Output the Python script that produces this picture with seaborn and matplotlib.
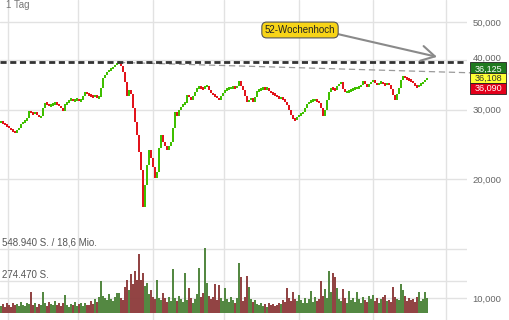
import numpy as np
import pandas as pd
import matplotlib
matplotlib.use("Agg")
import matplotlib.pyplot as plt
import matplotlib.transforms as mtransforms
from matplotlib.patches import Rectangle
from matplotlib.ticker import NullLocator
import seaborn as sns

# ---------------- data (prices in thousands) ----------------
closes = [
    27.91, 27.75, 27.43, 27.27, 26.95, 26.64, 26.48, 26.18, 26.64, 26.95,
    27.59, 27.91, 28.07, 28.57, 29.76, 29.41, 29.24, 29.58, 29.07, 28.73,
    28.90, 30.28, 31.18, 31.00, 30.64, 30.82, 31.00, 31.18, 31.00, 30.64,
    30.28, 29.76, 31.00, 31.18, 31.73, 31.92, 31.55, 31.73, 31.92, 31.55,
    31.73, 32.48, 33.25, 32.86, 32.67, 32.48, 32.29, 32.67, 32.10, 32.29,
    34.03, 36.07, 36.71, 37.36, 37.80, 38.02, 38.46, 38.91, 39.37, 39.60,
    38.69, 37.36, 35.24, 32.48, 33.64, 32.86, 30.28, 27.91, 25.87, 23.43,
    21.09, 17.00, 19.33, 21.72, 23.70, 22.62, 21.47, 20.14, 20.85, 23.98,
    25.87, 24.83, 24.27, 23.70, 24.27, 24.83, 26.95, 29.58, 28.90, 29.93,
    30.46, 31.00, 31.18, 32.67, 32.29, 31.73, 32.48, 33.25, 34.03, 34.23,
    34.03, 33.83, 34.43, 34.43, 33.64, 33.05, 32.67, 32.48, 32.10, 31.73,
    32.48, 33.05, 33.64, 33.83, 34.03, 34.03, 34.23, 34.03, 34.43, 35.45,
    34.43, 33.64, 32.48, 31.36, 31.73, 32.10, 31.36, 32.29, 33.44, 33.64,
    33.83, 34.03, 33.83, 34.03, 33.44, 33.05, 32.86, 32.67, 32.29, 32.10,
    32.10, 31.92, 31.36, 30.82, 29.93, 29.07, 28.40, 28.24, 28.73, 29.07,
    29.24, 29.58, 30.28, 31.00, 31.36, 31.55, 31.73, 31.73, 31.55, 31.18,
    30.28, 28.90, 29.93, 31.73, 33.25, 34.03, 33.83, 33.64, 34.43, 34.83,
    35.24, 33.83, 33.25, 33.25, 33.44, 33.64, 33.83, 34.03, 34.03, 34.23,
    34.63, 35.45, 34.83, 34.23, 34.83, 35.24, 35.66, 35.04, 34.63, 35.04,
    35.24, 34.83, 34.63, 35.04, 34.63, 33.83, 32.67, 31.73, 32.86, 34.03,
    35.66, 36.50, 36.07, 35.86, 35.66, 35.45, 35.04, 34.43, 34.23, 34.63,
    34.83, 35.24, 35.66, 36.11,
]

# volume in thousand shares
volumes = [
    60, 75, 50, 85, 70, 55, 90, 65, 80, 60,
    95, 70, 60, 85, 75, 180, 65, 90, 55, 80,
    70, 180, 85, 60, 95, 75, 65, 100, 70, 85,
    60, 90, 155, 70, 55, 80, 65, 95, 60, 75,
    85, 60, 90, 70, 65, 100, 80, 120, 95, 140,
    275, 150, 130, 110, 160, 120, 100, 140, 175, 170,
    130, 110, 220, 283, 200, 335, 250, 360, 280, 506,
    283, 343, 230, 257, 160, 197, 140, 120, 283, 130,
    110, 170, 125, 95, 140, 100, 377, 130, 105, 150,
    120, 95, 343, 110, 214, 130, 90, 120, 160, 386,
    140, 170, 557, 257, 150, 120, 135, 249, 115, 240,
    130, 100, 214, 120, 95, 140, 110, 85, 130, 429,
    309, 100, 140, 317, 223, 120, 95, 115, 80, 70,
    90, 60, 75, 55, 85, 65, 80, 60, 70, 90,
    75, 110, 95, 214, 130, 100, 180, 120, 105, 154,
    110, 90, 130, 85, 120, 189, 95, 140, 100, 120,
    275, 150, 206, 130, 360, 180, 343, 309, 214, 120,
    100, 206, 130, 90, 189, 110, 130, 95, 180, 120,
    85, 140, 110, 95, 150, 120, 154, 100, 130, 90,
    120, 140, 154, 100, 110, 95, 223, 140, 120, 110,
    249, 197, 150, 100, 130, 110, 120, 95, 140, 180,
    100, 120, 180, 130,
]

price_ticks = [10, 20, 30, 40, 50]
price_tick_labels = ["10,000", "20,000", "30,000", "40,000", "50,000"]
month_lines = [3.5, 38.5, 76, 111.5, 149, 186, 222.5]
vol_levels = [274.47, 548.94]
vol_labels = ["274.470 S.", "548.940 S. / 18,6 Mio."]
high52 = 39.65
trend_idx = [59, 254.5]
trend_val = [39.5, 36.93]
quote_labels = ["36,125", "36,108", "36,090"]
quote_value = 36.108
arrow_target = (218, 40.8)
annot_text = "52-Wochenhoch"
period_text = "1 Tag"

# ---------------- figure ----------------
sns.set_theme(style="white")
plt.rcParams['font.family'] = ['Liberation Sans', 'DejaVu Sans']

W, H = 510, 320
fig = plt.figure(figsize=(W / 100, H / 100), dpi=100)
fig.patch.set_facecolor("white")
ax = fig.add_axes([0, 0, 467 / W, 1])
ax.set_yscale("log")
ax.set_ylim(8.80, 56.84)
ax.set_xlim(-0.5, 233.0)
for s in ax.spines.values():
    s.set_visible(False)

n = len(closes)
idx = np.arange(n)
opens = [closes[0]] + closes[:-1]
up = [c >= o for c, o in zip(closes, opens)]
lo, hi = [], []
for o, c in zip(opens, closes):
    a, b = min(o, c), max(o, c)
    if b / a < 1.012:
        m = np.sqrt(a * b)
        a, b = m / 1.006, m * 1.006
    lo.append(a)
    hi.append(b)
lo = np.array(lo)
hi = np.array(hi)
ccol = ["#3fbf00" if u else "#e2141c" for u in up]
ax.bar(idx, hi - lo, bottom=lo, width=0.9, color=ccol, linewidth=0, zorder=3)

# 52 week high and trend line
ax.axhline(high52, color="#333333", lw=2.0, dashes=(2.2, 1.3), zorder=4)
ax.plot(trend_idx, trend_val, color="#9a9a9a", lw=0.9, dashes=(5, 3),
        clip_on=False, zorder=2)

# volume axis
axv = ax.twinx()
for s in axv.spines.values():
    s.set_visible(False)
df = pd.DataFrame({"idx": idx, "vol": volumes,
                   "dir": ["up" if u else "down" for u in up]})
sns.barplot(data=df, x="idx", y="vol", hue="dir",
            palette={"up": "#4b8238", "down": "#8c3a3a"},
            native_scale=True, width=0.8, dodge=False, legend=False,
            errorbar=None, saturation=1, linewidth=0, ax=axv, alpha=0.95)
axv.set_ylim(-60.04, 2684.6)
axv.set_xlim(-0.5, 233.0)
axv.set_xlabel("")
axv.set_ylabel("")
axv.set_yticks(vol_levels)
axv.yaxis.grid(True, color="#e2e2e2", lw=1)
axv.tick_params(axis="y", right=False, left=False, labelright=False, labelleft=False)
bt = mtransforms.blended_transform_factory(axv.transAxes, axv.transData)
for v, lab in zip(vol_levels, vol_labels):
    axv.text(2 / 467, v * 1.02, lab, transform=bt, ha="left", va="bottom",
             fontsize=7, color="#555555")

# price axis ticks / grid
ax.set_xticks(month_lines)
ax.set_yticks(price_ticks)
ax.yaxis.set_minor_locator(NullLocator())
ax.set_yticklabels(price_tick_labels)
ax.set_xlabel("")
ax.set_ylabel("")
ax.grid(True, color="#e2e2e2", lw=1)
ax.set_axisbelow(True)
ax.yaxis.tick_right()
ax.tick_params(axis="y", right=True, left=False, labelright=True, labelleft=False,
               length=0, pad=4, labelsize=6.8, labelcolor="#666666")
ax.tick_params(axis="x", bottom=False, labelbottom=False)
# the 40,000 label sits slightly above its line in the reference
for lbl in ax.get_yticklabels():
    if lbl.get_text() == "40,000":
        lbl.set_transform(lbl.get_transform() +
                          mtransforms.ScaledTranslation(0, 2.5 / 100, fig.dpi_scale_trans))

# annotation
ax.annotate(annot_text, xy=arrow_target, xycoords="data",
            xytext=(300, 290), textcoords="figure pixels",
            ha="center", va="center", fontsize=7, color="#222222",
            bbox=dict(boxstyle="round,pad=0.3,rounding_size=0.5",
                      fc="#f7d417", ec="#555555", lw=0.8),
            arrowprops=dict(arrowstyle="->,head_length=0.8,head_width=0.45",
                            color="#8a8a8a", lw=1.5, relpos=(0.97, 0.2),
                            shrinkA=0, shrinkB=0, mutation_scale=12),
            annotation_clip=False, zorder=6)

# quote boxes
yc = ax.transData.transform((0, quote_value))[1]
bh = 10.5
box_styles = [("#1f7a1f", "white"), ("#ffff33", "#333333"), ("#e3001b", "white")]
for k, (lab, (fc, tc)) in enumerate(zip(quote_labels, box_styles)):
    cy = yc + (1 - k) * bh
    fig.add_artist(Rectangle((470 / W, (cy - bh / 2) / H), 36 / W, bh / H,
                             transform=fig.transFigure, facecolor=fc,
                             edgecolor="#222222", lw=0.6, zorder=5))
    ty = cy - (1.5 if k == 0 else 0.0)
    fig.text(488 / W, ty / H, lab, ha="center", va="center", fontsize=6.5,
             color=tc, zorder=6)

fig.text(6 / W, 1 - 5 / H, period_text, ha="left", va="center", fontsize=7,
         color="#777777")

fig.savefig("out.png", dpi=100)
